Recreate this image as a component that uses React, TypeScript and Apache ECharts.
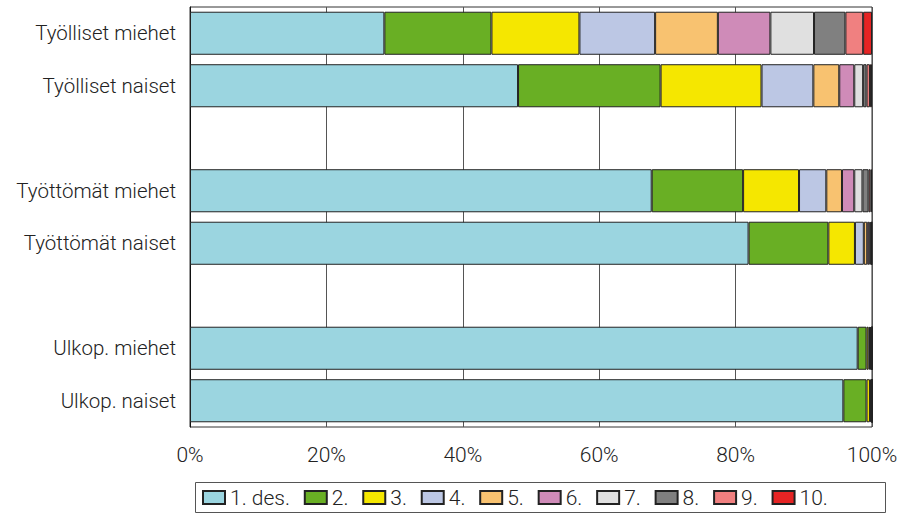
import React, { useEffect, useRef } from "react";
import * as echarts from "echarts";

const categories = [
  "Työlliset miehet",
  "Työlliset naiset",
  " ",
  "Työttömät miehet",
  "Työttömät naiset",
  "  ",
  "Ulkop. miehet",
  "Ulkop. naiset",
];

const seriesNames = ["1. des.", "2.", "3.", "4.", "5.", "6.", "7.", "8.", "9.", "10."];

const colors = [
  "#9BD5E0",
  "#69AF24",
  "#F5E700",
  "#BCC7E4",
  "#F8C270",
  "#CF8BB8",
  "#E0E0E0",
  "#808080",
  "#F08080",
  "#E52424",
];

// rows: per decile value (%), null for empty gap rows
const tyollisetMiehet = [28.5, 15.7, 12.9, 11.1, 9.2, 7.7, 6.4, 4.6, 2.6, 1.3];
const tyollisetNaiset = [48.1, 20.9, 14.8, 7.6, 3.8, 2.2, 1.3, 0.5, 0.5, 0.3];
const tyottomatMiehet = [67.7, 13.4, 8.2, 4.0, 2.3, 1.8, 1.2, 0.9, 0.3, 0.2];
const tyottomatNaiset = [81.9, 11.7, 3.9, 1.3, 0.5, 0.3, 0.2, 0.1, 0.05, 0.05];
const ulkopMiehet = [97.9, 1.3, 0.3, 0.2, 0.1, 0.1, 0.1, 0, 0, 0];
const ulkopNaiset = [95.8, 3.4, 0.5, 0.2, 0.1, 0, 0, 0, 0, 0];

const rows: (number[] | null)[] = [
  tyollisetMiehet,
  tyollisetNaiset,
  null,
  tyottomatMiehet,
  tyottomatNaiset,
  null,
  ulkopMiehet,
  ulkopNaiset,
];

const xTicks = [0, 20, 40, 60, 80, 100];

export default function App() {
  const ref = useRef<HTMLDivElement>(null);
  useEffect(() => {
    if (!ref.current) return;
    const chart = echarts.init(ref.current, undefined, { renderer: "svg" });
    const font = "Roboto, Liberation Sans, Arial, sans-serif";
    chart.setOption({
      animation: false,
      backgroundColor: "#ffffff",
      grid: {
        left: 190,
        right: 38,
        top: 7,
        bottom: 89,
        show: true,
        borderColor: "#333",
        borderWidth: 1,
      },
      xAxis: {
        type: "value",
        min: xTicks[0],
        max: xTicks[xTicks.length - 1],
        interval: 20,
        axisLine: { show: false },
        axisTick: { show: false },
        splitLine: { show: true, lineStyle: { color: "#555", width: 1 } },
        axisLabel: {
          formatter: "{value}%",
          fontSize: 21,
          fontWeight: 300,
          color: "#222",
          fontFamily: font,
          margin: 17,
        },
      },
      yAxis: {
        type: "category",
        inverse: true,
        data: categories,
        axisLine: { show: true, lineStyle: { color: "#111", width: 1 } },
        axisTick: { show: false },
        axisLabel: {
          fontSize: 20.5,
          fontWeight: 300,
          color: "#222",
          fontFamily: font,
          margin: 14,
        },
      },
      legend: {
        left: 202,
        top: 487,
        padding: 0,
        itemWidth: 22,
        itemHeight: 13,
        itemGap: 13.8,
        icon: "rect",
        textStyle: { fontSize: 21, fontWeight: 300, color: "#222", fontFamily: font },
        data: seriesNames,
      },
      graphic: [
        {
          type: "rect",
          shape: { x: 195.5, y: 482.5, width: 690, height: 30 },
          style: { fill: "none", stroke: "#555", lineWidth: 1 },
          silent: true,
        },
      ],
      series: seriesNames.map((name, i) => ({
        name,
        type: "bar",
        stack: "total",
        barWidth: "82%",
        itemStyle: { color: colors[i], borderColor: "#222", borderWidth: 1 },
        data: rows.map((r) => (r ? r[i] : null)),
      })),
    });
    return () => chart.dispose();
  }, []);
  return (
    <div
      ref={ref}
      style={{ position: "absolute", left: 0, top: 0, width: 910, height: 516 }}
    />
  );
}
